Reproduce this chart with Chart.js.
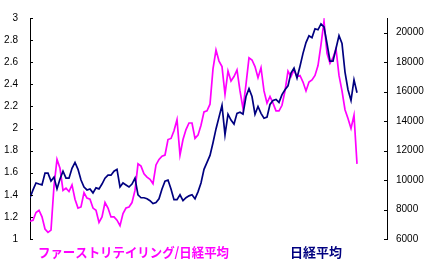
<!DOCTYPE html>
<html>
<head>
<meta charset="utf-8">
<script src="https://cdn.jsdelivr.net/npm/chart.js@4"></script>
<style>
  body { margin: 0; background: #fff; }
  #box { width: 433px; height: 272px; }
</style>
</head>
<body>
<div id="box"><canvas id="ratioChart" width="433" height="272"></canvas></div>
<script>
/* ファーストリテイリング/日経平均 (左軸) と 日経平均 (右軸) */
const seriesNames = ["ファーストリテイリング/日経平均", "日経平均"];

const ratio = [
  1.16, 1.17, 1.24, 1.26, 1.20, 1.09, 1.06, 1.08, 1.48, 1.72,
  1.64, 1.44, 1.46, 1.43, 1.49, 1.36, 1.28, 1.29, 1.42, 1.37,
  1.36, 1.28, 1.26, 1.15, 1.20, 1.33, 1.28, 1.20, 1.20, 1.17,
  1.12, 1.23, 1.28, 1.29, 1.33, 1.44, 1.68, 1.66, 1.59, 1.56,
  1.54, 1.50, 1.67, 1.72, 1.75, 1.76, 1.90, 1.91, 1.98, 2.08,
  1.76, 1.90, 1.99, 2.05, 2.05, 1.91, 1.94, 2.03, 2.15, 2.16,
  2.22, 2.54, 2.71, 2.61, 2.56, 2.31, 2.52, 2.43, 2.47, 2.53,
  2.34, 2.18, 2.40, 2.64, 2.62, 2.56, 2.46, 2.55, 2.34, 2.23,
  2.29, 2.23, 2.16, 2.16, 2.21, 2.34, 2.52, 2.47, 2.53, 2.47,
  2.48, 2.42, 2.34, 2.42, 2.44, 2.48, 2.57, 2.76, 2.97, 2.68,
  2.59, 2.64, 2.72, 2.48, 2.34, 2.17, 2.09, 2.00, 2.12, 1.68,
];

const nikkei = [
  8800, 9330, 9800, 9730, 9670, 10470, 10470, 9930, 10200, 9400,
  10070, 10600, 10130, 10130, 10800, 11200, 10730, 10000, 9530, 9330,
  9400, 9130, 9470, 9400, 9730, 10130, 10330, 10330, 10600, 10730,
  9530, 9800, 9670, 9530, 9730, 10130, 9000, 8800, 8800, 8730,
  8600, 8400, 8470, 8730, 9400, 9930, 10000, 9400, 8670, 8670,
  9000, 8600, 8800, 8930, 9000, 8730, 9200, 9800, 10730, 11200,
  11670, 12530, 13470, 14270, 15070, 13070, 14470, 14070, 13800, 14530,
  14600, 14470, 15670, 16200, 15670, 14470, 15000, 14530, 14200, 14270,
  15130, 15400, 15470, 15270, 15800, 16130, 16400, 17270, 17600, 16930,
  17730, 18600, 19330, 19800, 19670, 20270, 20200, 20600, 20400, 19270,
  18070, 18070, 18930, 19800, 19270, 17330, 16130, 15400, 16800, 15930,
];

const ratioTicks = [1, 1.2, 1.4, 1.6, 1.8, 2, 2.2, 2.4, 2.6, 2.8, 3];
const nikkeiTicks = [6000, 8000, 10000, 12000, 14000, 16000, 18000, 20000];

const tickFont = { family: "'Liberation Sans', Arial, sans-serif", size: 10 };

// short tick marks pointing into the plot
const innerTicks = {
  id: "innerTicks",
  afterDraw(chart) {
    const ctx = chart.ctx;
    ctx.save();
    ctx.strokeStyle = "#000";
    ctx.lineWidth = 1;
    ["yL", "yR"].forEach((id) => {
      const s = chart.scales[id];
      const x0 = id === "yL" ? s.right : s.left;
      const dir = id === "yL" ? 1 : -1;
      s.ticks.forEach((t) => {
        const y = Math.round(s.getPixelForValue(t.value)) + 0.5;
        ctx.beginPath();
        ctx.moveTo(x0, y);
        ctx.lineTo(x0 + dir * 3, y);
        ctx.stroke();
      });
    });
    ctx.restore();
  },
};

// series names written under the plot in their line colour
const bottomLabels = {
  id: "bottomLabels",
  afterDraw(chart) {
    const ctx = chart.ctx;
    const xs = [38, 290];
    const widths = [191, 55];
    ctx.save();
    ctx.font = "bold 13px 'Noto Sans CJK JP'";
    ctx.textBaseline = "middle";
    chart.data.datasets.forEach((ds, i) => {
      ctx.fillStyle = ds.borderColor;
      ctx.fillText(ds.label, xs[i], 252, widths[i]);
    });
    ctx.restore();
  },
};

new Chart(document.getElementById("ratioChart"), {
  type: "line",
  data: {
    datasets: [
      {
        label: seriesNames[0],
        data: ratio.map((v, i) => ({ x: i, y: v })),
        yAxisID: "yL",
        borderColor: "#FF00FF",
        borderWidth: 1.7,
        pointRadius: 0,
        order: 1,
      },
      {
        label: seriesNames[1],
        data: nikkei.map((v, i) => ({ x: i, y: v })),
        yAxisID: "yR",
        borderColor: "#000080",
        borderWidth: 1.7,
        pointRadius: 0,
        order: 0,
      },
    ],
  },
  options: {
    responsive: false,
    animation: false,
    layout: { padding: { top: 14, bottom: 33, left: 0, right: 0 } },
    plugins: {
      legend: { display: false },
      tooltip: { enabled: false },
    },
    scales: {
      x: { type: "linear", display: false, min: 0, max: 119 },
      yL: {
        position: "left",
        min: 1,
        max: 3,
        afterBuildTicks: (s) => { s.ticks = ratioTicks.map((v) => ({ value: v })); },
        afterFit: (s) => { s.width = 30; },
        grid: { display: false, drawTicks: false },
        border: { display: true, color: "#000", width: 1 },
        ticks: {
          padding: 12,
          color: "#000",
          font: tickFont,
          callback: (v) => String(Number(v.toFixed(1))),
        },
      },
      yR: {
        position: "right",
        min: 6000,
        max: 21000,
        afterBuildTicks: (s) => { s.ticks = nikkeiTicks.map((v) => ({ value: v })); },
        afterFit: (s) => { s.width = 46; },
        grid: { display: false, drawTicks: false },
        border: { display: true, color: "#000", width: 1 },
        ticks: {
          padding: 9,
          color: "#000",
          font: tickFont,
          callback: (v) => String(v),
        },
      },
    },
  },
  plugins: [innerTicks, bottomLabels],
});
</script>
</body>
</html>
